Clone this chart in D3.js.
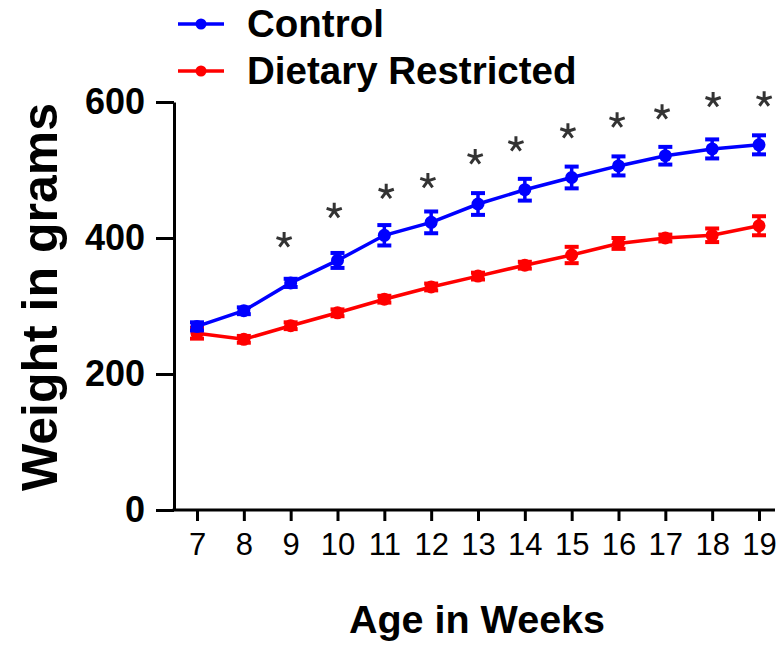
<!DOCTYPE html>
<html>
<head>
<meta charset="utf-8">
<script src="https://cdn.jsdelivr.net/npm/d3@7"></script>
<style>
  html, body { margin: 0; padding: 0; background: #ffffff; }
  svg { display: block; font-family: "Liberation Sans", Arial, sans-serif; }
</style>
</head>
<body>
<svg id="chart" width="777" height="648"></svg>
<script>
// ---- data ----
const weeks = [7, 8, 9, 10, 11, 12, 13, 14, 15, 16, 17, 18, 19];
const controlMean = [270, 293, 334, 367, 404, 423, 450, 471, 489, 506, 521, 531, 537];
const controlErr  = [6, 5, 6, 11, 15, 16, 16, 16, 16, 14, 13, 14, 14];
const restrictedMean = [260, 251, 271, 290, 310, 328, 344, 360, 375, 392, 400, 404, 418];
const restrictedErr  = [8, 5, 5, 5, 5, 5, 5, 5, 12, 8, 5, 10, 14];
const starWeeks  = [8.86, 9.93, 11.04, 11.93, 12.94, 13.81, 14.92, 15.97, 16.93, 18.02, 19.11];
const starValues = [397, 440, 468, 484, 519, 538, 557, 573, 585, 603, 604];
const yTicks = [0, 200, 400, 600];
const seriesNames = ["Control", "Dietary Restricted"];
const seriesColors = ["#0000ff", "#ff0000"];

// ---- layout ----
const svg = d3.select("#chart");
const x = d3.scaleLinear().domain([7, 19]).range([197, 759]);
const y = d3.scaleLinear().domain([0, 600]).range([510, 102]);
const axisX = 174;

// y axis
const yAxis = svg.append("g")
  .attr("transform", `translate(${axisX},0)`)
  .call(d3.axisLeft(y).tickValues(yTicks).tickSize(18).tickPadding(11).tickSizeOuter(0));
yAxis.select(".domain").attr("stroke", "#000").attr("stroke-width", 3);
yAxis.selectAll(".tick line").attr("stroke", "#000").attr("stroke-width", 3);
yAxis.selectAll(".tick text")
  .attr("font-size", 36).attr("font-weight", "bold").attr("fill", "#000")
  .attr("font-family", "'Liberation Sans', Arial, sans-serif");

// x axis
const xAxis = svg.append("g")
  .attr("transform", `translate(0,${y(0)})`)
  .call(d3.axisBottom(x).tickValues(weeks).tickFormat(d3.format("d")).tickSize(11).tickPadding(12).tickSizeOuter(0));
xAxis.select(".domain").attr("d", `M${axisX - 1.5},0H775`).attr("stroke", "#000").attr("stroke-width", 3);
xAxis.selectAll(".tick line").attr("stroke", "#000").attr("stroke-width", 3);
xAxis.selectAll(".tick text")
  .attr("font-size", 31).attr("fill", "#000")
  .attr("font-family", "'Liberation Sans', Arial, sans-serif");

// axis titles
svg.append("text")
  .attr("transform", `translate(57,297) rotate(-90)`)
  .attr("text-anchor", "middle")
  .attr("font-size", 50).attr("font-weight", "bold").attr("fill", "#000")
  .text("Weight in grams");
svg.append("text")
  .attr("x", 477).attr("y", 633)
  .attr("text-anchor", "middle")
  .attr("font-size", 39.5).attr("font-weight", "bold").attr("fill", "#000")
  .text("Age in Weeks");

// series
const series = [
  { name: seriesNames[0], color: seriesColors[0], mean: controlMean, err: controlErr },
  { name: seriesNames[1], color: seriesColors[1], mean: restrictedMean, err: restrictedErr }
];
const line = d3.line().x(d => x(d.w)).y(d => y(d.v));

series.slice().reverse().forEach(s => {
  const pts = weeks.map((w, i) => ({ w, v: s.mean[i], e: s.err[i] }));
  const g = svg.append("g");
  g.append("path").datum(pts)
    .attr("d", line).attr("fill", "none")
    .attr("stroke", s.color).attr("stroke-width", 3.5);
  const eb = g.selectAll(".eb").data(pts).enter().append("g");
  eb.append("line")
    .attr("x1", d => x(d.w)).attr("x2", d => x(d.w))
    .attr("y1", d => y(d.v + d.e)).attr("y2", d => y(d.v - d.e))
    .attr("stroke", s.color).attr("stroke-width", 3.5);
  [1, -1].forEach(sign => {
    eb.append("line")
      .attr("x1", d => x(d.w) - 7).attr("x2", d => x(d.w) + 7)
      .attr("y1", d => y(d.v + sign * d.e)).attr("y2", d => y(d.v + sign * d.e))
      .attr("stroke", s.color).attr("stroke-width", 4);
  });
  g.selectAll(".pt").data(pts).enter().append("circle")
    .attr("cx", d => x(d.w)).attr("cy", d => y(d.v)).attr("r", 6.5)
    .attr("fill", s.color);
});

// significance stars (5-armed asterisks)
const starG = svg.append("g");
starWeeks.forEach((w, i) => {
  const cx = x(w), cy = y(starValues[i]);
  const arms = d3.range(5).map(k => {
    const a = -Math.PI / 2 + k * 2 * Math.PI / 5;
    return `M${cx},${cy}L${cx + 8 * Math.cos(a)},${cy + 8 * Math.sin(a)}`;
  }).join("");
  starG.append("path").attr("d", arms)
    .attr("stroke", "#333").attr("stroke-width", 3).attr("stroke-linecap", "butt").attr("fill", "none");
});

// legend
const legend = svg.append("g");
series.forEach((s, i) => {
  const ly = 24 + i * 47;
  legend.append("line").attr("x1", 178).attr("x2", 224).attr("y1", ly).attr("y2", ly)
    .attr("stroke", s.color).attr("stroke-width", 3.5);
  legend.append("circle").attr("cx", 201).attr("cy", ly).attr("r", 5.5).attr("fill", s.color);
  legend.append("text").attr("x", 247).attr("y", ly + 13)
    .attr("font-size", 38.5).attr("font-weight", "bold").attr("fill", "#000")
    .text(s.name);
});
</script>
</body>
</html>
